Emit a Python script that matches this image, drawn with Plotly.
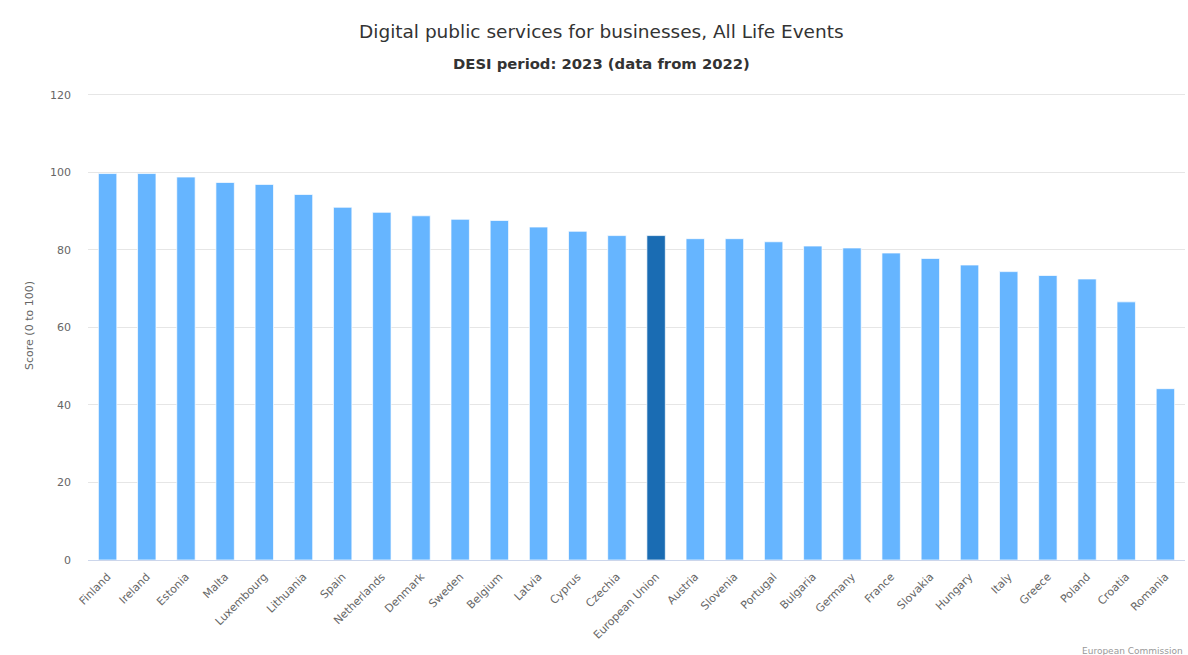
import plotly.graph_objects as go

# DESI 2023: digital public services for businesses, score 0-100
countries = [
    "Finland", "Ireland", "Estonia", "Malta", "Luxembourg", "Lithuania", "Spain",
    "Netherlands", "Denmark", "Sweden", "Belgium", "Latvia", "Cyprus", "Czechia",
    "European Union", "Austria", "Slovenia", "Portugal", "Bulgaria", "Germany",
    "France", "Slovakia", "Hungary", "Italy", "Greece", "Poland", "Croatia", "Romania",
]
scores = [
    99.7, 99.7, 98.8, 97.4, 96.9, 94.3, 91.0,
    89.7, 88.8, 87.9, 87.6, 85.9, 84.8, 83.7,
    83.7, 82.9, 82.9, 82.1, 81.0, 80.5,
    79.2, 77.8, 76.1, 74.4, 73.4, 72.5, 66.6, 44.2,
]
y_ticks = [0, 20, 40, 60, 80, 100, 120]

BAR = "#66b5ff"
EU_BAR = "#1a6cb3"
colors = [EU_BAR if c == "European Union" else BAR for c in countries]

FONT = "DejaVu Sans, Verdana, sans-serif"

# plot area in pixels: x 88..1185, y 91..560 (value range 0..121, so 120 sits at y=95)
Y_MAX = 121
PLOT_TOP, PLOT_BOTTOM, PLOT_LEFT, PLOT_RIGHT = 91, 560, 88, 1185
H = PLOT_BOTTOM - PLOT_TOP
W = PLOT_RIGHT - PLOT_LEFT
TITLE_CX = (601 - PLOT_LEFT) / W


def py(pixel_y):
    return (PLOT_BOTTOM - pixel_y) / H


fig = go.Figure(
    go.Bar(
        x=countries,
        y=scores,
        marker=dict(color=colors, line=dict(color="rgba(255,255,255,0.7)", width=1)),
        hovertemplate="%{x}: %{y}<extra></extra>",
    )
)

fig.update_layout(
    width=1188,
    height=655,
    margin=dict(l=PLOT_LEFT, r=1188 - PLOT_RIGHT, t=PLOT_TOP, b=655 - PLOT_BOTTOM),
    paper_bgcolor="white",
    plot_bgcolor="white",
    bargap=0.53,
    showlegend=False,
    font=dict(family=FONT, color="#666666", size=11),
    annotations=[
        dict(
            text="Digital public services for businesses, All Life Events",
            xref="paper", yref="paper",
            x=TITLE_CX, y=py(31),
            xanchor="center", yanchor="middle",
            showarrow=False,
            font=dict(family=FONT, size=18.5, color="#333333"),
        ),
        dict(
            text="<b>DESI period: 2023 (data from 2022)</b>",
            xref="paper", yref="paper",
            x=TITLE_CX, y=py(63),
            xanchor="center", yanchor="middle",
            showarrow=False,
            font=dict(family=FONT, size=14.8, color="#333333"),
        ),
        dict(
            text="European Commission",
            xref="paper", yref="paper",
            x=1.0, y=py(651),
            xanchor="right", yanchor="middle",
            showarrow=False,
            font=dict(family=FONT, size=9, color="#999999"),
        ),
    ],
)

fig.update_xaxes(
    tickangle=-45,
    showgrid=False,
    showline=True,
    linecolor="#ccd6eb",
    linewidth=1,
    ticks="",
    ticklabelstandoff=5,
    tickfont=dict(size=11, color="#666666"),
)

fig.update_yaxes(
    range=[0, Y_MAX],
    tickvals=y_ticks,
    showgrid=True,
    gridcolor="#e6e6e6",
    gridwidth=1,
    zeroline=False,
    showline=False,
    ticks="",
    ticklabelstandoff=16,
    tickfont=dict(size=11, color="#666666"),
    title=dict(text="Score (0 to 100)", font=dict(size=11, color="#666666"), standoff=14),
)

fig.write_html("out.html")
